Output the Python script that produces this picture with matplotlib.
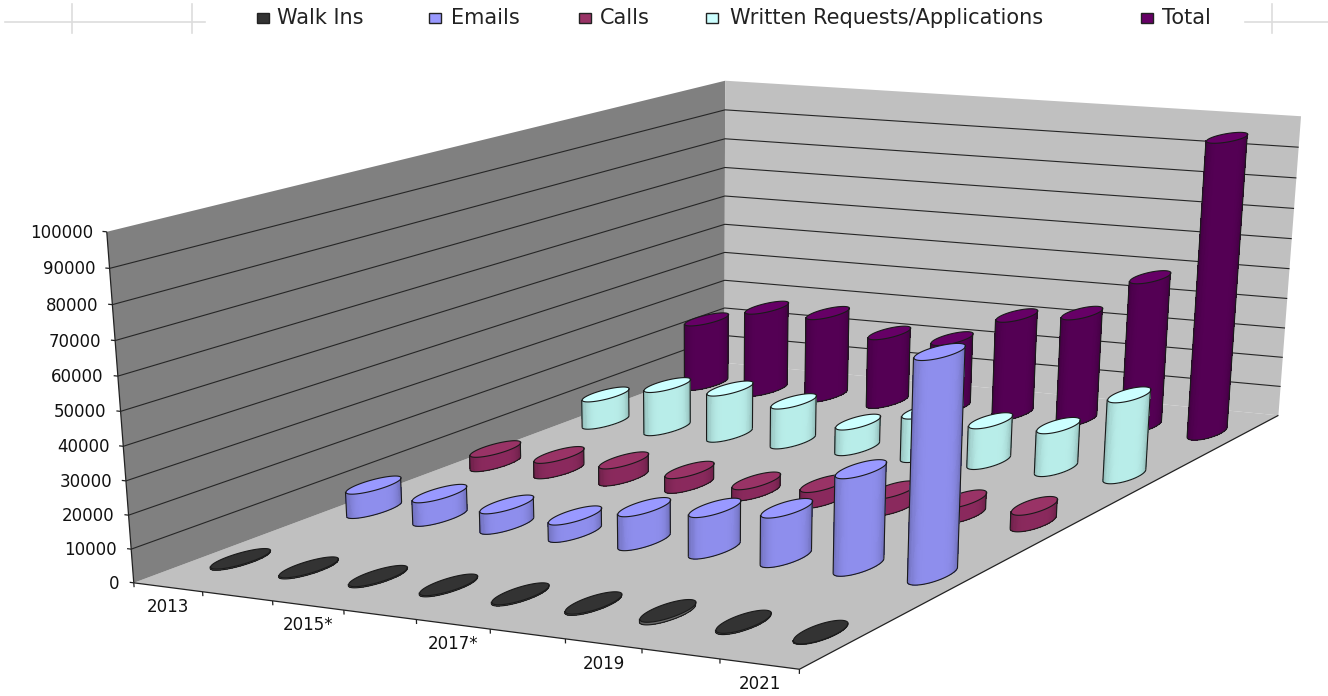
import numpy as np
import matplotlib
matplotlib.use('Agg')
import matplotlib.pyplot as plt
import matplotlib.colors as clr
from matplotlib.patches import Rectangle
from mpl_toolkits.mplot3d.art3d import Poly3DCollection, Line3DCollection

# values
years = ['2013', '', '2015*', '', '2017*', '', '2019', '', '2021']
series = ['Walk Ins', 'Emails', 'Calls', 'Written Requests/Applications', 'Total']
walk_ins = [500, 500, 500, 500, 500, 500, 900, 500, 300]
emails = [7800, 7500, 6500, 5500, 10500, 12700, 15000, 29000, 65000]
calls = [4900, 5200, 5700, 4900, 3700, 5200, 5500, 5000, 5300]
written = [9500, 14800, 15700, 13500, 8700, 14500, 13500, 14100, 26200]
total = [23000, 29000, 29000, 24000, 24000, 33800, 36500, 50300, 97000]
value_ticks = list(range(0, 100001, 10000))
all_values = [walk_ins, emails, calls, written, total]
top_colors = ['#333333', '#9999ff', '#993366', '#ccffff', '#660066']
side_colors = ['#666666', '#8a8ae6', '#86285a', '#b3e6e2', '#520052']

# camera: box corners (year, series, value) seen at these picture positions
corners = [(0, 0, 0), (9, 0, 0), (9, 5, 0), (0, 5, 0), (0, 0, 100000), (0, 5, 100000), (9, 5, 100000)]
corner_px = [(133, 581), (800, 670), (1278, 415), (725, 364), (107, 233), (725, 80), (1301, 116)]

rows, rhs = [], []
for (x, y, z), (u, v) in zip(corners, corner_px):
    rows.append([x, y, z, 1, 0, 0, 0, 0, -u * x, -u * y, -u * z])
    rows.append([0, 0, 0, 0, x, y, z, 1, -v * x, -v * y, -v * z])
    rhs += [u, v]
scale = np.array([1, 1, 1e-5, 1, 1, 1, 1e-5, 1, 1, 1, 1e-5])
sol = np.linalg.lstsq(np.array(rows, float) * scale, np.array(rhs, float), rcond=None)[0] * scale
M = np.array([sol[:4], sol[4:8], [0, 1, 0, 0], list(sol[8:]) + [1]])

fig = plt.figure(figsize=(13.28, 6.96), dpi=100, facecolor='white')
ax = fig.add_axes([0, 0, 1, 1], projection='3d', computed_zorder=False)
ax.set_axis_off()
ax.get_proj = lambda: M
ax.apply_aspect = lambda position=None: None
ax.viewLim.intervalx = (0, 1328)
ax.viewLim.intervaly = (696, 0)


def to_px(x, y, z):
    w = M[3, 0] * x + M[3, 1] * y + M[3, 2] * z + 1
    return (M[0, 0] * x + M[0, 1] * y + M[0, 2] * z + M[0, 3]) / w, (M[1, 0] * x + M[1, 1] * y + M[1, 2] * z + M[1, 3]) / w


def wall(verts, color, z=1):
    ax.add_collection3d(Poly3DCollection([verts], facecolors=color, edgecolors='none', zorder=z), autolim=False)


def lines(segs, color='#222222', lw=0.9, z=2):
    ax.add_collection3d(Line3DCollection(segs, colors=color, linewidths=lw, zorder=z), autolim=False)


top = value_ticks[-1]
wall([(0, 0, 0), (9, 0, 0), (9, 5, 0), (0, 5, 0)], '#c0c0c0')
wall([(0, 0, 0), (0, 5, 0), (0, 5, top), (0, 0, top)], '#808080')
wall([(0, 5, 0), (9, 5, 0), (9, 5, top), (0, 5, top)], '#c0c0c0')

# gridlines on the walls
for v in value_ticks[1:-1]:
    lines([[(0, 0, v), (0, 5, v), (9, 5, v)]], color='#262626', lw=0.8)
lines([[(0, 0, 0), (0, 0, top)], [(0, 0, 0), (9, 0, 0), (9, 5, 0)]])

for v in value_ticks:
    lines([[(-0.06, 0, v), (0, 0, v)]])
    ax.annotate(str(v), xy=to_px(0, 0, v), xytext=(-14, -1), textcoords='offset pixels',
                ha='right', va='center', fontsize=12, color='#111111', family='DejaVu Sans')
for i in range(10):
    lines([[(i, 0, 0), (i, 0, -1300)]])
for i, lab in enumerate(years):
    if lab:
        ax.annotate(lab, xy=to_px(i + 0.5, 0, 0), xytext=(0, -20), textcoords='offset pixels',
                    ha='center', va='center', fontsize=12, color='#111111', family='DejaVu Sans')

theta = np.linspace(0, 2 * np.pi, 121)[:-1]
rx, ry = 0.2, 0.19


def cylinder(i, j, value, top_c, side_c, z):
    xs = i + 0.5 + rx * np.cos(theta)
    ys = j + 0.5 + ry * np.sin(theta)
    px, py = to_px(xs, ys, 0)
    n = len(theta)
    a, b = int(np.argmin(px)), int(np.argmax(px))
    order = np.roll(np.arange(n), -a)
    k = int(np.where(order == b)[0][0])
    arc1 = order[:k + 1]
    arc2 = np.r_[order[k:], order[0]]
    arc = arc1 if py[arc1].mean() > py[arc2].mean() else arc2
    # side of the cylinder, darker towards the silhouette
    mid = (px[a] + px[b]) / 2
    half = (px[b] - px[a]) / 2
    base = np.array(clr.to_rgb(side_c))
    verts, cols = [], []
    for p, q in zip(arc[:-1], arc[1:]):
        verts.append([(xs[p], ys[p], 0), (xs[q], ys[q], 0), (xs[q], ys[q], value), (xs[p], ys[p], value)])
        t = abs((px[p] + px[q]) / 2 - mid) / half
        cols.append(np.clip(base * (1.03 - 0.28 * t ** 5), 0, 1))
    ax.add_collection3d(Poly3DCollection(verts, facecolors=cols, edgecolors='none', antialiaseds=False, zorder=z),
                        autolim=False)
    ax.add_collection3d(Poly3DCollection([list(zip(xs, ys, np.full(n, value)))], facecolors=top_c,
                                         edgecolors='#1a1a1a', linewidths=0.8, zorder=z + 1), autolim=False)
    outline = [list(zip(xs[arc], ys[arc], np.zeros(len(arc))))]
    for e in (a, b):
        outline.append([(xs[e], ys[e], 0), (xs[e], ys[e], value)])
    lines(outline, color='#1a1a1a', lw=0.8, z=z + 1)


for j in range(len(series) - 1, -1, -1):
    for i, value in enumerate(all_values[j]):
        cylinder(i, j, value, top_colors[j], side_colors[j], 10 + (4 - j) * 100 + i * 3)

# legend
legend_sq = [257, 429, 579, 706, 1141]
legend_tx = [277, 451, 600, 730, 1162]
for name, c, sq, tx in zip(series, top_colors, legend_sq, legend_tx):
    fig.add_artist(Rectangle((sq / 1328, 1 - 23 / 696), 12 / 1328, 10 / 696, transform=fig.transFigure,
                             facecolor=c, edgecolor='#222222', lw=1))
    fig.text(tx / 1328, 1 - 18 / 696, name, ha='left', va='center', fontsize=15, color='#222222',
             family='DejaVu Sans')

# faint marks left over around the legend
for seg in [((5, 205), (22, 22)), ((72, 72), (4, 33)), ((192, 192), (4, 33)), ((1272, 1272), (4, 33)), ((1245, 1328), (22, 22))]:
    fig.add_artist(plt.Line2D(np.array(seg[0]) / 1328, 1 - np.array(seg[1]) / 696, color='#dddddd', lw=1.2,
                              transform=fig.transFigure))

fig.savefig('out.png', dpi=100)
